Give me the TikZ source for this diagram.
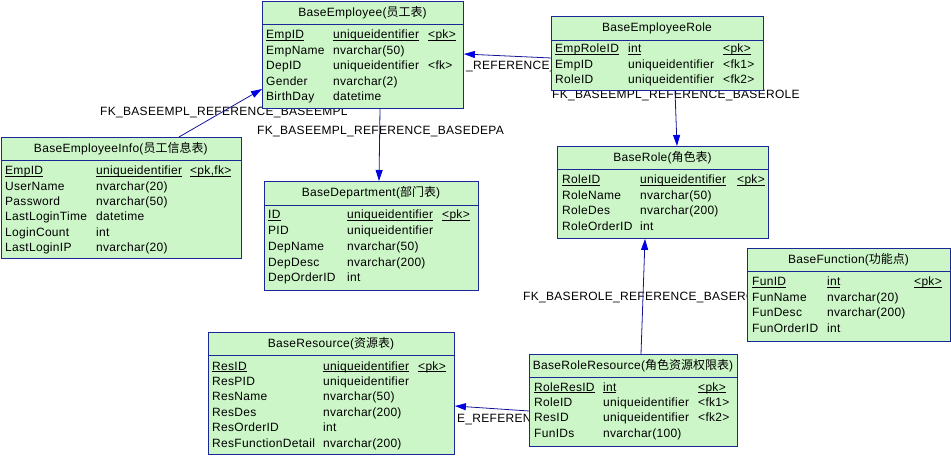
\documentclass[tikz,border=0pt]{standalone}
\usepackage{fontspec}
\setmainfont{Liberation Sans}[LetterSpace=2.5]
\newfontfamily\cjk{Noto Sans CJK SC}
\usetikzlibrary{arrows.meta}
\pgfdeclarelayer{bg}
\pgfsetlayers{bg,main}
\definecolor{fillc}{RGB}{204,246,200}
\definecolor{bordc}{RGB}{25,40,150}
\definecolor{linec}{RGB}{20,20,150}
\definecolor{arrowc}{RGB}{0,0,225}
\newcommand\fs{\fontsize{12}{14}\selectfont}
\newcommand\ul[1]{\setbox0\hbox{#1}\rlap{\rule[-1.8pt]{\wd0}{0.7pt}}\box0}
\tikzset{
  tbl/.style={draw=bordc, fill=fillc, line width=0.9pt, inner sep=0pt, anchor=north west},
  ttl/.style={font=\fs, inner sep=0pt, anchor=base},
  cell/.style={font=\fs, inner sep=0pt, anchor=base west},
  seprule/.style={draw=bordc, line width=0.9pt},
  fklabel/.style={font=\fs, inner sep=0pt, anchor=base west},
  fk/.style={draw=linec, line width=0.8pt, -{Triangle[length=11pt,width=7pt,color=arrowc]}}
}
\begin{document}
\begin{tikzpicture}[x=1pt,y=-1pt]
\useasboundingbox (0,0) rectangle (951,457);

% ---- BaseEmployee
\node[tbl, minimum width=201, minimum height=107] (emp) at (262,1) {};
\node[ttl] (empT) at (362.5,16.5) {BaseEmployee({\cjk 员工表})};
\draw[seprule] (emp.west |- 0,24) -- (emp.east |- 0,24);
\foreach \n/\t/\k [count=\i] in {\ul{EmpID}/\ul{uniqueidentifier}/\ul{<pk>}, EmpName/nvarchar(50)/{}, DepID/uniqueidentifier/<fk>, Gender/nvarchar(2)/{}, BirthDay/datetime/{}}{
  \node[cell] (emp-n\i) at (266,{39+15.5*(\i-1)}) {\n};
  \node[cell] (emp-t\i) at (333,{39+15.5*(\i-1)}) {\t};
  \node[cell] (emp-k\i) at (428,{39+15.5*(\i-1)}) {\k};
}

% ---- BaseEmployeeRole
\node[tbl, minimum width=212, minimum height=74] (emprole) at (551,16) {};
\node[ttl] (emproleT) at (657,32) {BaseEmployeeRole};
\draw[seprule] (emprole.west |- 0,40) -- (emprole.east |- 0,40);
\foreach \n/\t/\k [count=\i] in {\ul{EmpRoleID}/\ul{int}/\ul{<pk>}, EmpID/uniqueidentifier/<fk1>, RoleID/uniqueidentifier/<fk2>}{
  \node[cell] (emprole-n\i) at (555,{53+15.5*(\i-1)}) {\n};
  \node[cell] (emprole-t\i) at (628,{53+15.5*(\i-1)}) {\t};
  \node[cell] (emprole-k\i) at (723,{53+15.5*(\i-1)}) {\k};
}

% ---- BaseEmployeeInfo
\node[tbl, minimum width=240.5, minimum height=121] (info) at (0.5,137) {};
\node[ttl] (infoT) at (120.75,152.5) {BaseEmployeeInfo({\cjk 员工信息表})};
\draw[seprule] (info.west |- 0,160) -- (info.east |- 0,160);
\foreach \n/\t/\k [count=\i] in {\ul{EmpID}/\ul{uniqueidentifier}/{\ul{<pk,fk>}}, UserName/nvarchar(20)/{}, Password/nvarchar(50)/{}, LastLoginTime/datetime/{}, LoginCount/int/{}, LastLoginIP/nvarchar(20)/{}}{
  \node[cell] (info-n\i) at (5,{175+15.3*(\i-1)}) {\n};
  \node[cell] (info-t\i) at (96,{175+15.3*(\i-1)}) {\t};
  \node[cell] (info-k\i) at (190,{175+15.3*(\i-1)}) {\k};
}

% ---- BaseDepartment
\node[tbl, minimum width=214, minimum height=109] (dept) at (264,181) {};
\node[ttl] (deptT) at (371,197) {BaseDepartment({\cjk 部门表})};
\draw[seprule] (dept.west |- 0,205) -- (dept.east |- 0,205);
\foreach \n/\t/\k [count=\i] in {\ul{ID}/\ul{uniqueidentifier}/\ul{<pk>}, PID/uniqueidentifier/{}, DepName/nvarchar(50)/{}, DepDesc/nvarchar(200)/{}, DepOrderID/int/{}}{
  \node[cell] (dept-n\i) at (268,{219+15.7*(\i-1)}) {\n};
  \node[cell] (dept-t\i) at (347,{219+15.7*(\i-1)}) {\t};
  \node[cell] (dept-k\i) at (442,{219+15.7*(\i-1)}) {\k};
}

% ---- BaseRole
\node[tbl, minimum width=211, minimum height=92] (role) at (557,146) {};
\node[ttl] (roleT) at (662.5,161.5) {BaseRole({\cjk 角色表})};
\draw[seprule] (role.west |- 0,169) -- (role.east |- 0,169);
\foreach \n/\t/\k [count=\i] in {\ul{RoleID}/\ul{uniqueidentifier}/\ul{<pk>}, RoleName/nvarchar(50)/{}, RoleDes/nvarchar(200)/{}, RoleOrderID/int/{}}{
  \node[cell] (role-n\i) at (562,{184+15.4*(\i-1)}) {\n};
  \node[cell] (role-t\i) at (640,{184+15.4*(\i-1)}) {\t};
  \node[cell] (role-k\i) at (737,{184+15.4*(\i-1)}) {\k};
}

% ---- BaseFunction
\node[tbl, minimum width=203, minimum height=93] (func) at (747,248) {};
\node[ttl] (funcT) at (848.5,263.5) {BaseFunction({\cjk 功能点})};
\draw[seprule] (func.west |- 0,271) -- (func.east |- 0,271);
\foreach \n/\t/\k [count=\i] in {\ul{FunID}/\ul{int}/\ul{<pk>}, FunName/nvarchar(20)/{}, FunDesc/nvarchar(200)/{}, FunOrderID/int/{}}{
  \node[cell] (func-n\i) at (752,{286+15.4*(\i-1)}) {\n};
  \node[cell] (func-t\i) at (827,{286+15.4*(\i-1)}) {\t};
  \node[cell] (func-k\i) at (914,{286+15.4*(\i-1)}) {\k};
}

% ---- BaseResource
\node[tbl, minimum width=246, minimum height=122] (res) at (208,332) {};
\node[ttl] (resT) at (331,347.5) {BaseResource({\cjk 资源表})};
\draw[seprule] (res.west |- 0,355) -- (res.east |- 0,355);
\foreach \n/\t/\k [count=\i] in {\ul{ResID}/\ul{uniqueidentifier}/\ul{<pk>}, ResPID/uniqueidentifier/{}, ResName/nvarchar(50)/{}, ResDes/nvarchar(200)/{}, ResOrderID/int/{}, ResFunctionDetail/nvarchar(200)/{}}{
  \node[cell] (res-n\i) at (212,{370+15.4*(\i-1)}) {\n};
  \node[cell] (res-t\i) at (323,{370+15.4*(\i-1)}) {\t};
  \node[cell] (res-k\i) at (418,{370+15.4*(\i-1)}) {\k};
}

% ---- BaseRoleResource
\node[tbl, minimum width=208, minimum height=92] (rr) at (529,354) {};
\node[ttl] (rrT) at (633,369.5) {BaseRoleResource({\cjk 角色资源权限表})};
\draw[seprule] (rr.west |- 0,377) -- (rr.east |- 0,377);
\foreach \n/\t/\k [count=\i] in {\ul{RoleResID}/\ul{int}/\ul{<pk>}, RoleID/uniqueidentifier/<fk1>, ResID/uniqueidentifier/<fk2>, FunIDs/nvarchar(100)/{}}{
  \node[cell] (rr-n\i) at (534,{391+15.4*(\i-1)}) {\n};
  \node[cell] (rr-t\i) at (603,{391+15.4*(\i-1)}) {\t};
  \node[cell] (rr-k\i) at (698,{391+15.4*(\i-1)}) {\k};
}

% ---- labels and connectors (behind the tables)
\begin{pgfonlayer}{bg}
\node[fklabel] (lab1) at (100,116) {FK\_BASEEMPL\_REFERENCE\_BASEEMPL};
\node[fklabel] (lab2) at (257,135) {FK\_BASEEMPL\_REFERENCE\_BASEDEPA};
\node[fklabel] (lab3) at (466,70) {\_REFERENCE\_};
\node[fklabel] (lab4) at (552,99) {FK\_BASEEMPL\_REFERENCE\_BASEROLE};
\node[fklabel] (lab5) at (523,301) {FK\_BASEROLE\_REFERENCE\_BASERO};
\node[fklabel] (lab6) at (457,422) {E\_REFEREN};

\draw[fk] (info.north -| 179,0) -- (emp.west |- 0,89);
\draw[fk] (emp.south -| 380,0) -- (dept.north -| 379,0);
\draw[fk] (emprole.west |- 0,58) -- (emp.east |- 0,54);
\draw[fk] (emprole.south -| 675,0) -- (role.north -| 677,0);
\draw[fk] (rr.north -| 641,0) -- (role.south -| 645,0);
\draw[fk] (rr.west |- 0,411) -- (res.east |- 0,406);
\end{pgfonlayer}
\end{tikzpicture}
\end{document}
